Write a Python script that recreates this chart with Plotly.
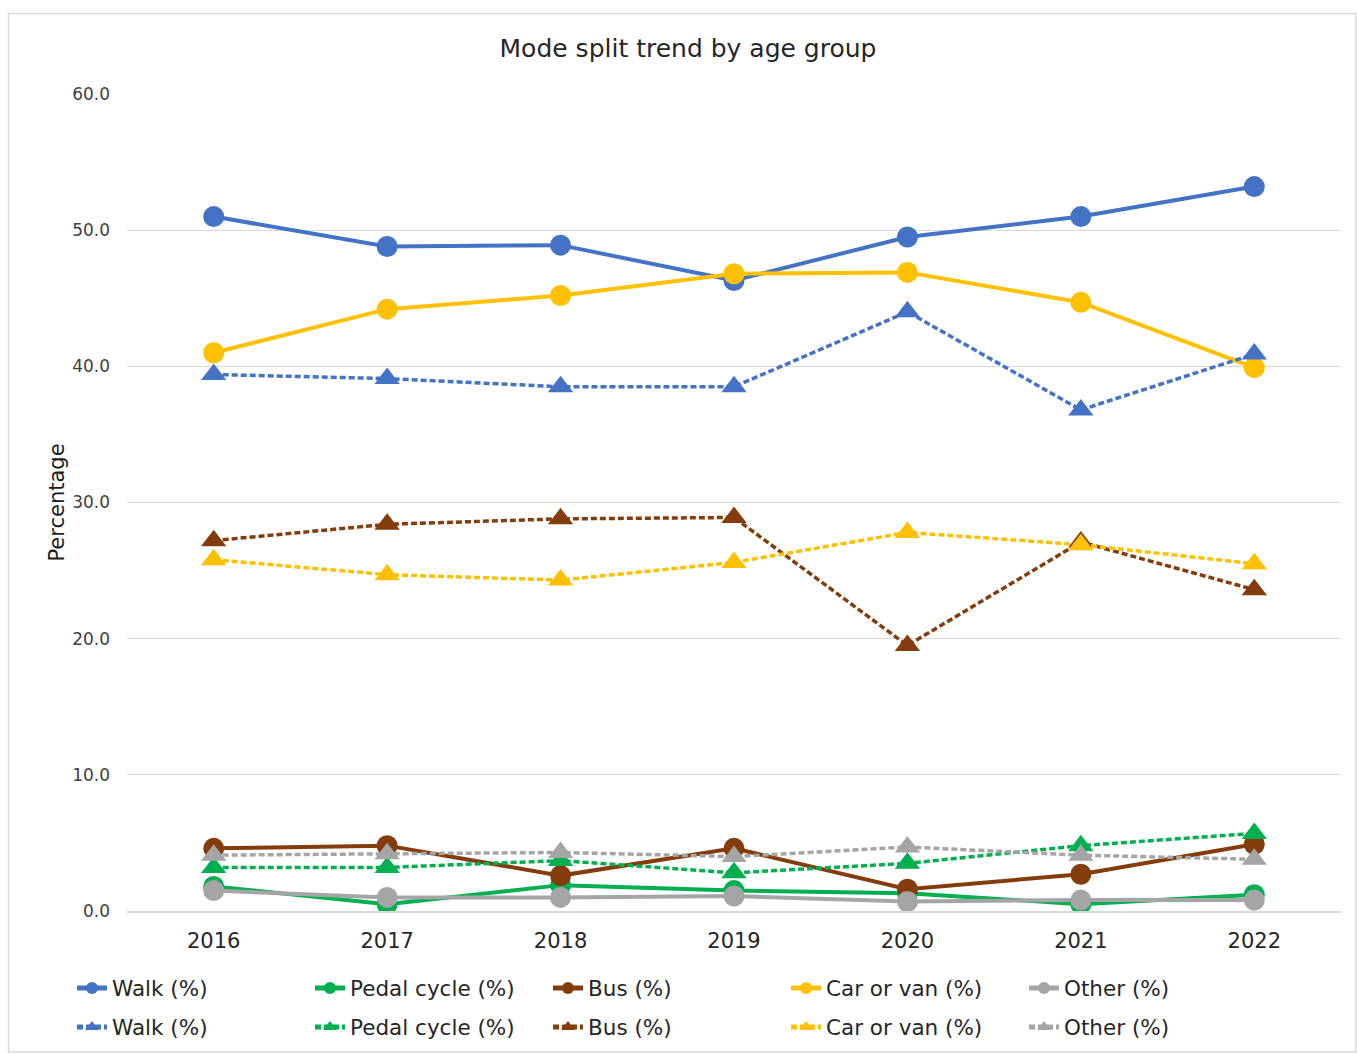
import plotly.graph_objects as go

years = ["2016", "2017", "2018", "2019", "2020", "2021", "2022"]
modes = ["Walk (%)", "Pedal cycle (%)", "Bus (%)", "Car or van (%)", "Other (%)"]

# Solid series (circle markers)
walk_a = [51.0, 48.8, 48.9, 46.3, 49.5, 51.0, 53.2]
cycle_a = [1.8, 0.5, 1.9, 1.5, 1.3, 0.5, 1.2]
bus_a = [4.6, 4.8, 2.6, 4.6, 1.6, 2.7, 4.9]
car_a = [41.0, 44.2, 45.2, 46.8, 46.9, 44.7, 39.9]
other_a = [1.5, 1.0, 1.0, 1.1, 0.7, 0.8, 0.8]

# Dashed series (triangle markers)
walk_b = [39.4, 39.1, 38.5, 38.5, 44.0, 36.8, 40.9]
cycle_b = [3.2, 3.2, 3.7, 2.8, 3.5, 4.8, 5.7]
bus_b = [27.2, 28.4, 28.8, 28.9, 19.5, 27.1, 23.6]
car_b = [25.8, 24.7, 24.3, 25.6, 27.8, 26.9, 25.5]
other_b = [4.1, 4.2, 4.3, 4.0, 4.7, 4.1, 3.8]

colors = ["#4472C4", "#00B050", "#843C0C", "#FFC000", "#A5A5A5"]
y_ticks = [0, 10, 20, 30, 40, 50, 60]

FONT = "DejaVu Sans, sans-serif"

fig = go.Figure()

solid_sets = [walk_a, cycle_a, bus_a, car_a, other_a]
dashed_sets = [walk_b, cycle_b, bus_b, car_b, other_b]

for name, vals, col in zip(modes, solid_sets, colors):
    fig.add_trace(go.Scatter(
        x=years, y=vals, name=name, mode="lines+markers",
        line=dict(color=col, width=4),
        marker=dict(symbol="circle", size=21, color=col),
        legend="legend",
    ))

for name, vals, col in zip(modes, dashed_sets, colors):
    fig.add_trace(go.Scatter(
        x=years, y=vals, name=name, mode="lines+markers",
        line=dict(color=col, width=3.5, dash="6px,3px"),
        marker=dict(symbol="triangle-up", size=22, color=col),
        legend="legend2",
    ))

W, H = 1357, 1054
L, R, T, B = 127, 16, 94, 143
pw, ph = W - L - R, H - T - B


def px_x(x):
    return (x - L) / pw


def px_y(y):
    return (H - B - y) / ph


legend_common = dict(
    orientation="h",
    font=dict(family=FONT, size=21.5, color="#262626"),
    entrywidth=193,
    entrywidthmode="pixels",
    itemsizing="constant",
    bgcolor="rgba(0,0,0,0)",
    xanchor="left",
    yanchor="middle",
    itemclick=False,
)

fig.update_layout(
    width=W, height=H,
    margin=dict(l=L, r=R, t=T, b=B, autoexpand=False),
    paper_bgcolor="white",
    plot_bgcolor="white",
    title=dict(
        text="Mode split trend by age group",
        font=dict(family=FONT, size=25, color="#262626"),
        x=688 / W, xanchor="center",
        y=1 - 48 / H, yanchor="middle",
    ),
    xaxis=dict(
        type="category",
        range=[-0.5, 6.5],
        showgrid=False,
        showline=True, linecolor="#d9d9d9", linewidth=1.5,
        ticks="", ticklabelstandoff=10,
        tickfont=dict(family=FONT, size=21, color="#262626"),
        fixedrange=True,
    ),
    yaxis=dict(
        range=[0, 60],
        tickvals=y_ticks,
        ticktext=[f"{v:.1f}" for v in y_ticks],
        showgrid=True, gridcolor="#d9d9d9", gridwidth=1,
        zeroline=False, showline=False,
        ticks="", ticklabelstandoff=16,
        tickfont=dict(family=FONT, size=17, color="#404040"),
        title=dict(text="Percentage", font=dict(family=FONT, size=21, color="#1a1a1a"), standoff=1),
        fixedrange=True,
    ),
    legend=dict(x=px_x(72), y=px_y(988), **legend_common),
    legend2=dict(x=px_x(72), y=px_y(1027), **legend_common),
    shapes=[dict(
        type="rect", xref="paper", yref="paper",
        x0=px_x(8.5), x1=px_x(1356), y0=px_y(1052), y1=px_y(13.5),
        line=dict(color="#d9d9d9", width=1.5), fillcolor="rgba(0,0,0,0)",
        layer="below",
    )],
)

fig.write_html("out.html")
